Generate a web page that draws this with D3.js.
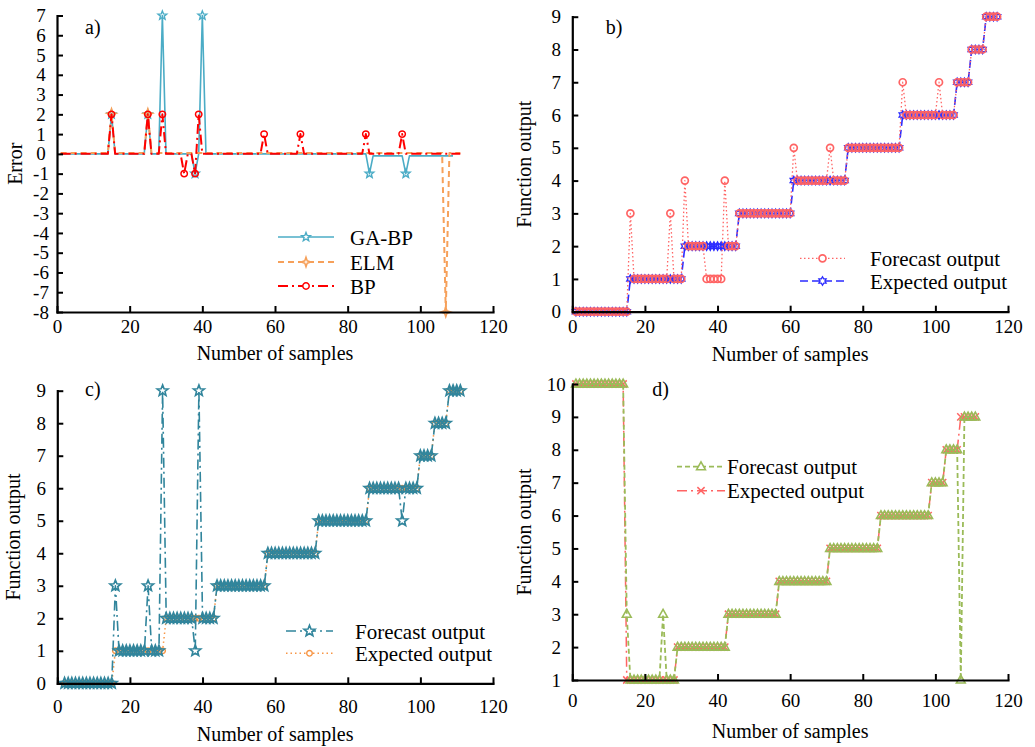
<!DOCTYPE html>
<html>
<head>
<meta charset="utf-8">
<script src="https://cdn.jsdelivr.net/npm/d3@7/dist/d3.min.js"></script>
<style>
  html, body { margin: 0; padding: 0; background: #fff; }
  svg text { font-family: "Liberation Serif", "Times New Roman", serif; fill: #000; }
</style>
</head>
<body>
<svg id="fig" width="1035" height="747"></svg>
<script>
// ---------------- data ----------------
const xTicks = [0, 20, 40, 60, 80, 100, 120];
const errorTicks = [-8, -7, -6, -5, -4, -3, -2, -1, 0, 1, 2, 3, 4, 5, 6, 7];
const outputTicks = [0, 1, 2, 3, 4, 5, 6, 7, 8, 9];
const outputTicksD = [1, 2, 3, 4, 5, 6, 7, 8, 9, 10];

// a) prediction error of each model, samples 1..n
const errGABP = [
  0, 0, 0, 0, 0, 0, 0, 0, 0, 0,
  0, 0, 0, 0, 2, 0, 0, 0, 0, 0,
  0, 0, 0, 0, 2, 0, 0, 0, 7, 0,
  0, 0, 0, 0, 0, 0, 0, -1, 0, 7,
  0, 0, 0, 0, 0, 0, 0, 0, 0, 0,
  0, 0, 0, 0, 0, 0, 0, 0, 0, 0,
  0, 0, 0, 0, 0, 0, 0, 0, 0, 0,
  0, 0, 0, 0, 0, 0, 0, 0, 0, 0,
  0, 0, 0, 0, 0, -1, -0.1, -0.1, -0.1, -0.1,
  -0.1, -0.1, -0.1, -0.1, -0.1, -1, -0.1, -0.1, -0.1, -0.1,
  -0.1, -0.1, -0.1, -0.1, -0.1, -0.1, -0.1, -0.1, -0.1
];
const errELM = [
  0.05, 0.05, 0.05, 0.05, 0.05, 0.05, 0.05, 0.05, 0.05, 0.05,
  0.05, 0.05, 0.05, 0.05, 2.05, 0.05, 0.05, 0.05, 0.05, 0.05,
  0.05, 0.05, 0.05, 0.05, 2.05, 0.05, 0.05, 0.05, 0.05, 0.05,
  0.05, 0.05, 0.05, 0.05, 0.05, 0.05, 0.05, 0.05, 0.05, 0.05,
  0.05, 0.05, 0.05, 0.05, 0.05, 0.05, 0.05, 0.05, 0.05, 0.05,
  0.05, 0.05, 0.05, 0.05, 0.05, 0.05, 0.05, 0.05, 0.05, 0.05,
  0.05, 0.05, 0.05, 0.05, 0.05, 0.05, 0.05, 0.05, 0.05, 0.05,
  0.05, 0.05, 0.05, 0.05, 0.05, 0.05, 0.05, 0.05, 0.05, 0.05,
  0.05, 0.05, 0.05, 0.05, 0.05, 0.05, 0.05, 0.05, 0.05, 0.05,
  0.05, 0.05, 0.05, 0.05, 0.05, 0.05, 0.05, 0.05, 0.05, 0.05,
  0.05, 0.05, 0.05, 0.05, 0.05, 0.05, -8, 0.05, 0.05, 0.05,
  0.05
];
const errBP = [
  0, 0, 0, 0, 0, 0, 0, 0, 0, 0,
  0, 0, 0, 0, 2, 0, 0, 0, 0, 0,
  0, 0, 0, 0, 2, 0, 0, 0, 2, 0,
  0, 0, 0, 0, -1, 0, 0, -1, 2, 0,
  0, 0, 0, 0, 0, 0, 0, 0, 0, 0,
  0, 0, 0, 0, 0, 0, 1, 0, 0, 0,
  0, 0, 0, 0, 0, 0, 1, 0, 0, 0,
  0, 0, 0, 0, 0, 0, 0, 0, 0, 0,
  0, 0, 0, 0, 1, 0, 0, 0, 0, 0,
  0, 0, 0, 0, 1, 0, 0, 0, 0, 0,
  0, 0, 0, 0, 0, 0, 0, 0, 0, 0,
  0
];

// b) BP network, samples 1..117
const bForecast = [
  0, 0, 0, 0, 0, 0, 0, 0, 0, 0,
  0, 0, 0, 0, 0, 3, 1, 1, 1, 1,
  1, 1, 1, 1, 1, 1, 3, 1, 1, 1,
  4, 2, 2, 2, 2, 2, 1, 1, 1, 1,
  1, 4, 2, 2, 2, 3, 3, 3, 3, 3,
  3, 3, 3, 3, 3, 3, 3, 3, 3, 3,
  5, 4, 4, 4, 4, 4, 4, 4, 4, 4,
  5, 4, 4, 4, 4, 5, 5, 5, 5, 5,
  5, 5, 5, 5, 5, 5, 5, 5, 5, 5,
  7, 6, 6, 6, 6, 6, 6, 6, 6, 6,
  7, 6, 6, 6, 6, 7, 7, 7, 7, 8,
  8, 8, 8, 9, 9, 9, 9
];
const bExpected = [
  0, 0, 0, 0, 0, 0, 0, 0, 0, 0,
  0, 0, 0, 0, 0, 1, 1, 1, 1, 1,
  1, 1, 1, 1, 1, 1, 1, 1, 1, 1,
  2, 2, 2, 2, 2, 2, 2, 2, 2, 2,
  2, 2, 2, 2, 2, 3, 3, 3, 3, 3,
  3, 3, 3, 3, 3, 3, 3, 3, 3, 3,
  4, 4, 4, 4, 4, 4, 4, 4, 4, 4,
  4, 4, 4, 4, 4, 5, 5, 5, 5, 5,
  5, 5, 5, 5, 5, 5, 5, 5, 5, 5,
  6, 6, 6, 6, 6, 6, 6, 6, 6, 6,
  6, 6, 6, 6, 6, 7, 7, 7, 7, 8,
  8, 8, 8, 9, 9, 9, 9
];

// c) GA-BP network, samples 2..111
const cForecast = [
  0, 0, 0, 0, 0, 0, 0, 0, 0, 0, 0, 0, 0, 0,
  3, 1, 1, 1, 1, 1, 1, 1, 1, 3, 1, 1, 1, 9,
  2, 2, 2, 2, 2, 2, 2, 2, 1, 9, 2, 2, 2, 2,
  3, 3, 3, 3, 3, 3, 3, 3, 3, 3, 3, 3, 3, 3,
  4, 4, 4, 4, 4, 4, 4, 4, 4, 4, 4, 4, 4, 4,
  5, 5, 5, 5, 5, 5, 5, 5, 5, 5, 5, 5, 5, 5,
  6, 6, 6, 6, 6, 6, 6, 6, 6, 5, 6, 6, 6, 6,
  7, 7, 7, 7,
  8, 8, 8, 8,
  9, 9, 9, 9
];
const cExpected = [
  0, 0, 0, 0, 0, 0, 0, 0, 0, 0, 0, 0, 0, 0,
  1, 1, 1, 1, 1, 1, 1, 1, 1, 1, 1, 1, 1, 1,
  2, 2, 2, 2, 2, 2, 2, 2, 2, 2, 2, 2, 2, 2,
  3, 3, 3, 3, 3, 3, 3, 3, 3, 3, 3, 3, 3, 3,
  4, 4, 4, 4, 4, 4, 4, 4, 4, 4, 4, 4, 4, 4,
  5, 5, 5, 5, 5, 5, 5, 5, 5, 5, 5, 5, 5, 5,
  6, 6, 6, 6, 6, 6, 6, 6, 6, 6, 6, 6, 6, 6,
  7, 7, 7, 7,
  8, 8, 8, 8,
  9, 9, 9, 9
];

// d) ELM network, samples 1..111
const dForecast = [
  10, 10, 10, 10, 10, 10, 10, 10, 10, 10, 10, 10, 10, 10,
  3, 1, 1, 1, 1, 1, 1, 1, 1, 1, 3, 1, 1, 1,
  2, 2, 2, 2, 2, 2, 2, 2, 2, 2, 2, 2, 2, 2,
  3, 3, 3, 3, 3, 3, 3, 3, 3, 3, 3, 3, 3, 3,
  4, 4, 4, 4, 4, 4, 4, 4, 4, 4, 4, 4, 4, 4,
  5, 5, 5, 5, 5, 5, 5, 5, 5, 5, 5, 5, 5, 5,
  6, 6, 6, 6, 6, 6, 6, 6, 6, 6, 6, 6, 6, 6,
  7, 7, 7, 7,
  8, 8, 8, 8,
  1, 9, 9, 9, 9
];
const dExpected = [
  10, 10, 10, 10, 10, 10, 10, 10, 10, 10, 10, 10, 10, 10,
  1, 1, 1, 1, 1, 1, 1, 1, 1, 1, 1, 1, 1, 1,
  2, 2, 2, 2, 2, 2, 2, 2, 2, 2, 2, 2, 2, 2,
  3, 3, 3, 3, 3, 3, 3, 3, 3, 3, 3, 3, 3, 3,
  4, 4, 4, 4, 4, 4, 4, 4, 4, 4, 4, 4, 4, 4,
  5, 5, 5, 5, 5, 5, 5, 5, 5, 5, 5, 5, 5, 5,
  6, 6, 6, 6, 6, 6, 6, 6, 6, 6, 6, 6, 6, 6,
  7, 7, 7, 7,
  8, 8, 8, 8,
  9, 9, 9, 9, 9
];

// ---------------- drawing ----------------
const FONT = '"Liberation Serif", "Times New Roman", serif';
const svg = d3.select('#fig');

function starPath(n, ro, ri) {
  const pts = [];
  for (let k = 0; k < 2 * n; k++) {
    const r = k % 2 ? ri : ro;
    const a = -Math.PI / 2 + k * Math.PI / n;
    pts.push((r * Math.cos(a)).toFixed(3) + ',' + (r * Math.sin(a)).toFixed(3));
  }
  return 'M' + pts.join('L') + 'Z';
}
function circlePath(r) {
  return `M${r},0A${r},${r} 0 1,1 ${-r},0A${r},${r} 0 1,1 ${r},0Z`;
}
const markerShapes = {
  starSmall: starPath(5, 4.6, 2.0),
  starLarge: starPath(5, 5.8, 2.5),
  fourStar: starPath(4, 4.8, 1.7),
  hexagram: starPath(6, 4.2, 2.4),
  circle: circlePath(3.2),
  circleB: circlePath(3.5),
  circleSmall: circlePath(2.8),
  triangle: 'M0,-4.8L4.4,3L-4.4,3Z',
  times: 'M-3.6,-3.6L3.6,3.6M-3.6,3.6L3.6,-3.6'
};

function drawPanel(cfg) {
  const x = d3.scaleLinear().domain([0, 120]).range([cfg.left, cfg.right]);
  const y = d3.scaleLinear().domain(cfg.yDomain).range([cfg.bottom, cfg.top]);
  const g = svg.append('g');

  const line = d3.line().x(d => x(d[0])).y(d => y(d[1]));

  cfg.series.forEach(s => {
    const pts = s.values.map((v, i) => [s.start + i, v]);
    g.append('path')
      .attr('d', line(pts))
      .attr('fill', 'none')
      .attr('stroke', s.color)
      .attr('stroke-width', s.width)
      .attr('stroke-dasharray', s.dash)
      .attr('stroke-linejoin', 'round');
    const marked = s.sparse ? pts.filter(d => Math.abs(d[1]) >= 0.5) : pts;
    g.append('g').selectAll('path')
      .data(marked)
      .join('path')
      .attr('d', markerShapes[s.marker])
      .attr('transform', d => `translate(${x(d[0])},${y(d[1])})`)
      .attr('fill', 'none')
      .attr('stroke', s.color)
      .attr('stroke-width', s.mw);
  });

  // axes with inward ticks
  const yAxis = d3.axisLeft(y).tickValues(cfg.yTicks).tickSizeInner(-6).tickSizeOuter(0)
    .tickPadding(16).tickFormat(d => String(d));
  const xAxis = d3.axisBottom(x).tickValues(xTicks).tickSizeInner(-6).tickSizeOuter(0)
    .tickPadding(cfg.xPad).tickFormat(d => String(d));

  const gx = g.append('g').attr('transform', `translate(0,${cfg.bottom})`).call(xAxis);
  const gy = g.append('g').attr('transform', `translate(${cfg.left},0)`).call(yAxis);
  [gx, gy].forEach(a => {
    a.attr('font-size', 19).attr('font-family', FONT).attr('text-anchor', 'middle');
    a.select('.domain').attr('stroke', '#000').attr('stroke-width', 2.2).attr('stroke-linecap', 'square');
    a.selectAll('.tick line').attr('stroke', '#000').attr('stroke-width', 2);
    a.selectAll('.tick text').attr('fill', '#000');
  });

  // titles
  g.append('text')
    .attr('x', (cfg.left + cfg.right) / 2).attr('y', cfg.xTitleY)
    .attr('text-anchor', 'middle').attr('font-size', 20)
    .text('Number of samples');
  g.append('text')
    .attr('transform', `translate(${cfg.yTitleX},${(cfg.top + cfg.bottom) / 2}) rotate(-90)`)
    .attr('text-anchor', 'middle').attr('font-size', 20)
    .text(cfg.yTitle);
  g.append('text')
    .attr('x', cfg.tag[0]).attr('y', cfg.tag[1])
    .attr('font-size', 20)
    .text(cfg.tagText);

  // legend
  const L = cfg.legend;
  L.items.forEach((it, i) => {
    const s = cfg.series[it.series];
    const yy = L.rows[i];
    const lg = g.append('g');
    lg.append('line')
      .attr('x1', L.x0).attr('x2', L.x1).attr('y1', yy).attr('y2', yy)
      .attr('stroke', s.color).attr('stroke-width', s.width)
      .attr('stroke-dasharray', s.dash);
    lg.append('path')
      .attr('d', markerShapes[s.marker])
      .attr('transform', `translate(${(L.x0 + L.x1) / 2},${yy})`)
      .attr('fill', '#fff')
      .attr('stroke', s.color).attr('stroke-width', s.mw);
    lg.append('text')
      .attr('x', L.tx).attr('y', yy + 7.5)
      .attr('font-size', 21)
      .text(it.label);
  });
}

// a) error curves
drawPanel({
  left: 57, right: 493, top: 15.5, bottom: 312, xPad: 8,
  yDomain: [-8, 7], yTicks: errorTicks,
  yTitle: 'Error', yTitleX: 22, xTitleY: 360,
  tag: [85, 34], tagText: 'a)',
  series: [
    { values: errGABP, start: 1, color: '#4bacc6', width: 1.6, dash: null, marker: 'starSmall', mw: 1.4, sparse: true },
    { values: errELM, start: 1, color: '#f6a05a', width: 2, dash: '6,4', marker: 'fourStar', mw: 1.5, sparse: true },
    { values: errBP, start: 1, color: '#ff0000', width: 2, dash: '10,4,2,4', marker: 'circle', mw: 1.5, sparse: true }
  ],
  legend: {
    x0: 278, x1: 334, tx: 350, rows: [237, 262, 286],
    items: [{ series: 0, label: 'GA-BP' }, { series: 1, label: 'ELM' }, { series: 2, label: 'BP' }]
  }
});

// b) BP network output
drawPanel({
  left: 572.3, right: 1008, top: 16.7, bottom: 311.7, xPad: 8,
  yDomain: [0, 9], yTicks: outputTicks,
  yTitle: 'Function output', yTitleX: 531, xTitleY: 361,
  tag: [605.7, 33.5], tagText: 'b)',
  series: [
    { values: bExpected, start: 1, color: '#2b2bff', width: 1.6, dash: '8,4', marker: 'hexagram', mw: 1.3 },
    { values: bForecast, start: 1, color: '#ff6464', width: 1.3, dash: '1.5,2.5', marker: 'circleB', mw: 1.7 }
  ],
  legend: {
    x0: 800, x1: 845, tx: 870, rows: [258.3, 281],
    items: [{ series: 1, label: 'Forecast output' }, { series: 0, label: 'Expected output' }]
  }
});

// c) GA-BP network output
drawPanel({
  left: 57.3, right: 493, top: 390.7, bottom: 683.3, xPad: 16,
  yDomain: [0, 9], yTicks: outputTicks,
  yTitle: 'Function output', yTitleX: 19.5, xTitleY: 741,
  tag: [85, 396], tagText: 'c)',
  series: [
    { values: cExpected, start: 2, color: '#f79646', width: 1.5, dash: '1.5,3', marker: 'circleSmall', mw: 1.4 },
    { values: cForecast, start: 2, color: '#31859c', width: 1.6, dash: '10,4,2,4', marker: 'starLarge', mw: 1.6 }
  ],
  legend: {
    x0: 286, x1: 333, tx: 355, rows: [631, 653.3],
    items: [{ series: 1, label: 'Forecast output' }, { series: 0, label: 'Expected output' }]
  }
});

// d) ELM network output
drawPanel({
  left: 572.3, right: 1008, top: 384, bottom: 680, xPad: 14,
  yDomain: [1, 10], yTicks: outputTicksD,
  yTitle: 'Function output', yTitleX: 531, xTitleY: 738,
  tag: [652.3, 396], tagText: 'd)',
  series: [
    { values: dExpected, start: 1, color: '#ff6464', width: 1.5, dash: '10,4,2,4', marker: 'times', mw: 1.5 },
    { values: dForecast, start: 1, color: '#9bbb59', width: 1.8, dash: '5,3', marker: 'triangle', mw: 1.6 }
  ],
  legend: {
    x0: 677, x1: 725, tx: 727, rows: [466.7, 490.7],
    items: [{ series: 1, label: 'Forecast output' }, { series: 0, label: 'Expected output' }]
  }
});
</script>
</body>
</html>
